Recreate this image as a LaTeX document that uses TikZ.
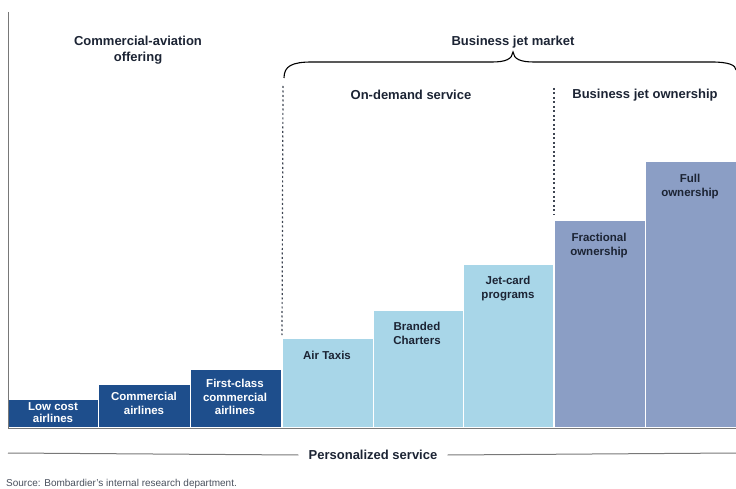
\documentclass[tikz,border=0pt]{standalone}
\usepackage{fontspec}
\setmainfont{Liberation Sans}
\definecolor{darkblue}{RGB}{30,78,140}
\definecolor{lightblue}{RGB}{168,214,232}
\definecolor{lavender}{RGB}{139,158,197}
\definecolor{ink}{RGB}{28,36,52}
\definecolor{axisgray}{RGB}{120,120,120}
\tikzset{
  bar/.style={anchor=south west, inner sep=0pt, draw=white, line width=0.8pt},
  bartext/.style={align=center, font=\bfseries\fontsize{11.5}{13.5}\selectfont, inner sep=0pt, anchor=north},
  head/.style={align=center, font=\bfseries\fontsize{13}{15.5}\selectfont, text=ink, inner sep=0pt},
  guide/.style={dash pattern=on 2pt off 2.5pt, line width=1.2pt, draw=ink!85},
  axisline/.style={draw=axisgray, line width=1pt}
}
\begin{document}
\begin{tikzpicture}[x=1pt,y=-1pt]
\useasboundingbox (0,0) rectangle (736,489);
% bars
\node[bar, fill=darkblue, minimum width=90pt, minimum height=28pt] (b1) at (8,428) {};
\node[bar, fill=darkblue, minimum width=92pt, minimum height=43pt] (b2) at (98,428) {};
\node[bar, fill=darkblue, minimum width=91pt, minimum height=58pt] (b3) at (190,428) {};
\node[bar, fill=lightblue, minimum width=91pt, minimum height=89pt] (b4) at (282,428) {};
\node[bar, fill=lightblue, minimum width=90pt, minimum height=117pt] (b5) at (373,428) {};
\node[bar, fill=lightblue, minimum width=90pt, minimum height=163pt] (b6) at (463,428) {};
\node[bar, fill=lavender, minimum width=91pt, minimum height=207pt] (b7) at (554,428) {};
\node[bar, fill=lavender, minimum width=91pt, minimum height=266pt] (b8) at (645,428) {};
% bar texts
\node[bartext, text=white] (t1) at (53,402) {Low cost\\[-1.5pt]airlines};
\node[bartext, text=white] (t2) at (144,392) {Commercial\\airlines};
\node[bartext, text=white] (t3) at (235,379) {First-class\\commercial\\airlines};
\node[bartext, text=ink] (t4) at (327,351) {Air Taxis};
\node[bartext, text=ink] (t5) at (417,322) {Branded\\Charters};
\node[bartext, text=ink] (t6) at (508,276) {Jet-card\\programs};
\node[bartext, text=ink] (t7) at (599,233) {Fractional\\ownership};
\node[bartext, text=ink] (t8) at (690,174) {Full\\ownership};
% axes
\coordinate (axtop) at (8,12);
\coordinate (axbot) at (8,428);
\coordinate (axright) at (736,428);
\draw[axisline] (axtop) -- (axbot) -- (axright);
% headers
\node[head] (h1) at (138,50) {Commercial-aviation\\offering};
\node[head] (h2) at (513,42) {Business jet market};
\node[head] (h3) at (411,95) {On-demand service};
\node[head] (h4) at (645,95) {Business jet ownership};
% brace
\coordinate (brl) at (284,78);
\coordinate (brt) at (513,52);
\coordinate (brr) at (736,70);
\draw[line width=1.1pt, draw=black] (brl) .. controls (284,66) and (292,62) .. (312,62) -- (492,62) .. controls (506,62) and (512,59) .. (brt) .. controls (514,59) and (520,62) .. (534,62) -- (712,62) .. controls (728,62) and (736,65) .. (brr);
% dotted guides
\coordinate (g1a) at (283,86);
\coordinate (g2a) at (554,88);
\draw[guide] (g1a) -- ([yshift=3pt]b4.north west);
\draw[guide] (g2a) -- ([yshift=6pt]b7.north west);
% personalized service
\node[head] (ps) at (373,455) {Personalized service};
\coordinate (psl) at (8,453);
\coordinate (psr) at (736,453);
\draw[axisline] (psl) -- ([xshift=-10pt]ps.west);
\draw[axisline] ([xshift=10pt]ps.east) -- (psr);
% source
\node[anchor=west, inner sep=0pt, font=\fontsize{10}{11}\selectfont, text=ink!80] (src) at (6,484) {Source: Bombardier's internal research department.};
\end{tikzpicture}
\end{document}
